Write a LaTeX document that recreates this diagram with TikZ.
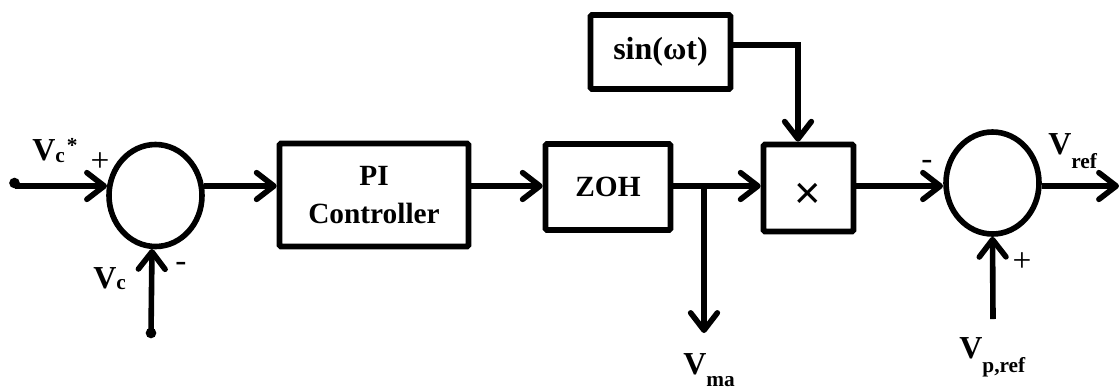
\documentclass[tikz,border=0pt]{standalone}
\usepackage{fontspec}
\setmainfont{Liberation Serif}
\newfontfamily\crossfont{Liberation Sans}
\usetikzlibrary{arrows.meta,shapes.geometric}
\newcommand{\bigV}{{\fontsize{24}{26}\selectfont V}}
\newcommand{\subtxt}[2]{\raisebox{#1}{\fontsize{16}{18}\selectfont #2}}
\tikzset{
  x=0.75pt,y=-0.75pt,
  block/.style={draw,line width=4.2pt,rounded corners=1pt,inner sep=0pt,align=center,font=\fontsize{22}{29}\selectfont\bfseries},
  sumj/.style={draw,ellipse,line width=4.2pt,inner sep=0pt,minimum width=69.75pt,minimum height=76.5pt},
  conn/.style={line width=4.2pt,-{Straight Barb[length=13pt,width=20pt,line width=4.2pt,round]}},
  lab/.style={inner sep=0pt,anchor=base west,font=\bfseries},
  sgn/.style={inner sep=0pt,font=\fontsize{25}{27}\selectfont},
  dot/.style={circle,fill,inner sep=0pt,minimum size=8pt}
}
\begin{document}
\begin{tikzpicture}
\useasboundingbox (0,0) rectangle (1119,390);
\node[sumj] (s1) at (155.5,195.5) {};
\node[sumj] (s2) at (992.5,183) {};
\node[block,minimum width=141.75pt,minimum height=77.25pt] (pi) at (374,195) {PI\\Controller};
\node[block,minimum width=93.75pt,minimum height=64.5pt] (zoh) at (608,187) {ZOH};
\node[block,minimum width=67.5pt,minimum height=65.25pt] (mul) at (808.5,188) {};
\node[inner sep=0pt,font=\crossfont\fontsize{34}{34}\selectfont] (x) at (808,196) {×};
\node[block,minimum width=105pt,minimum height=55.5pt,font=\fontsize{24}{29}\selectfont\bfseries] (sin) at (660.5,52) {sin(ωt)};
\node[dot] (a) at (14.5,183) {};
\node[dot] (b) at (151,333) {};
\coordinate (c) at (993,319);
\coordinate (o) at (1119,186);
\coordinate (m) at (704,333);
\coordinate (w) at (0,186);
\coordinate (k) at (798,45);
\coordinate (j) at (704,186);
\coordinate (i1) at (107,186);
\coordinate (i2) at (943,186);
\coordinate (o1) at (204,186);
\coordinate (o2) at (1042,186);
\coordinate (u1) at (152,249);
\draw[conn] (a|-w) -- (i1);
\draw[conn] (b.center) -- (u1);
\draw[conn] (o1) -- (pi.west|-w);
\draw[conn] (pi.east|-w) -- (zoh.west|-w);
\draw[conn] (zoh.east|-w) -- (mul.west|-w);
\draw[conn] (j) -- (m);
\draw[conn] (mul.east|-w) -- (i2);
\draw[conn] (o2) -- (o);
\draw[conn] (c) -- (s2.south);
\draw[conn,rounded corners=0pt] (sin.east|-k) -- (k) -- (k|-mul.north);
\node[lab] (l1) at (32,160) {\bigV\subtxt{-1.5pt}{c}\hspace{1.5pt}\raisebox{6pt}{\fontsize{16}{18}\selectfont *}};
\node[lab] (l2) at (93,288) {\bigV\subtxt{-1pt}{c}};
\node[lab] (l3) at (1048,154) {\bigV\subtxt{-10.5pt}{ref}};
\node[lab] (l4) at (959,358) {\bigV\subtxt{-10.5pt}{p,ref}};
\node[lab] (l5) at (683,374) {\bigV\subtxt{-9.5pt}{ma}};
\node[sgn] (p1) at (100,162) {+};
\node[sgn] (n1) at (181,267) {-};
\node[sgn] (n2) at (927,165) {-};
\node[sgn] (p2) at (1022,262) {+};
\end{tikzpicture}
\end{document}
